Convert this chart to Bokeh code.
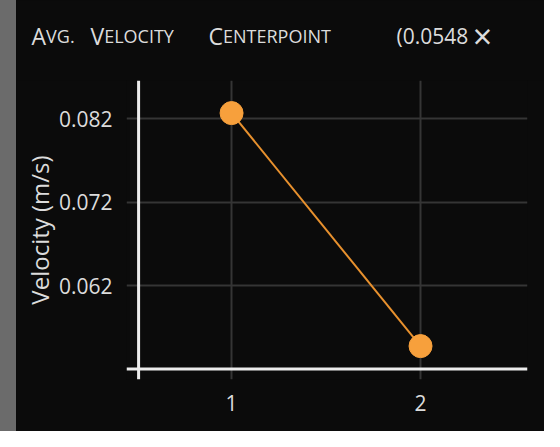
from bokeh.plotting import figure
from bokeh.models import Span, Label, FixedTicker, Range1d, Spacer, ColumnDataSource
from bokeh.layouts import row, column
from bokeh.embed import file_html
from bokeh.resources import INLINE

# ---- data ----
x_vals = [1, 2]
velocity = [0.0827, 0.0548]
x_tick_vals = [1, 2]
y_tick_vals = [0.062, 0.072, 0.082]
y_label = "Velocity (m/s)"
# small-caps title: (capital, rest) per word
title_words = [("A", "VG."), ("V", "ELOCITY"), ("C", "ENTERPOINT")]
title_value = "(0.0548"

FONT = "Open Sans"
BG = "#0b0b0b"
TXT = "#dcdcdc"
ORANGE = "#f7a03c"
LINE = "#e8912e"

W = 528
TH = 80          # header height
H = 351          # plot height
ML, MR, MB = 110, 17, 52

# ---------------- header (title) ----------------
hdr = figure(width=W, height=TH, output_backend="svg", toolbar_location=None,
             x_range=Range1d(0, 1), y_range=Range1d(0, 1),
             x_axis_type=None, y_axis_type=None,
             min_border_left=0, min_border_right=0,
             min_border_top=0, min_border_bottom=0,
             styles={"background-color": BG})
hdr.background_fill_color = BG
hdr.border_fill_color = BG
hdr.outline_line_color = None
hdr.grid.visible = False
if "frame_align" in hdr.properties():
    hdr.frame_align = False


def add_label(cx, cy, text, size, align="left"):
    # cx, cy: pixels from the header's top-left corner
    hdr.add_layout(Label(x=cx, y=TH - cy, x_units="screen", y_units="screen",
                         text=text, text_font=FONT, text_font_size=f"{size}px",
                         text_color=TXT, text_baseline="alphabetic", text_align=align))


BIG, SMALL = 23, 18
cap_w = {"A": 0.633, "V": 0.593, "C": 0.632}
word_x = [15, 74, 192]
base_y = 35
for (cap, rest), wx in zip(title_words, word_x):
    add_label(wx, base_y, cap, BIG)
    add_label(wx + cap_w[cap] * BIG, base_y, rest, SMALL)
add_label(380, base_y, title_value, 21)
add_label(466, base_y, "×", 34, align="center")

# ---------------- plot ----------------
src = ColumnDataSource(dict(x=x_vals, y=velocity))

p = figure(width=W, height=H, output_backend="svg", toolbar_location=None,
           x_range=Range1d(0.444, 2.566), y_range=Range1d(0.0508, 0.0866),
           min_border_left=ML, min_border_right=MR, min_border_top=0, min_border_bottom=MB,
           styles={"background-color": BG})
p.background_fill_color = BG
p.border_fill_color = BG
p.outline_line_color = None
if "frame_align" in p.properties():
    p.frame_align = False

for ax in (p.xaxis[0], p.yaxis[0]):
    ax.axis_line_color = None
    ax.major_tick_line_color = None
    ax.minor_tick_line_color = None
    ax.major_tick_out = 0
    ax.major_tick_in = 0
    ax.major_label_text_color = TXT
    ax.major_label_text_font = FONT
    ax.major_label_text_font_size = "21px"

p.xaxis.ticker = FixedTicker(ticks=x_tick_vals)
p.yaxis.ticker = FixedTicker(ticks=y_tick_vals)
p.xaxis.major_label_standoff = 15
p.yaxis.major_label_standoff = 14
p.yaxis.axis_label = y_label
p.yaxis.axis_label_text_font = FONT
p.yaxis.axis_label_text_font_size = "24px"
p.yaxis.axis_label_text_font_style = "normal"
p.yaxis.axis_label_text_color = TXT
p.yaxis.axis_label_standoff = 0

p.xgrid.ticker = FixedTicker(ticks=x_tick_vals)
p.ygrid.ticker = FixedTicker(ticks=y_tick_vals)
p.grid.grid_line_color = "#353535"
p.grid.grid_line_width = 2

# axis lines crossing at the lower-left corner
p.add_layout(Span(location=0.508, dimension="height", line_color="#ececec", line_width=3))
p.add_layout(Span(location=0.05206, dimension="width", line_color="#ececec", line_width=3))

p.line("x", "y", source=src, line_color=LINE, line_width=2)
p.scatter("x", "y", source=src, size=23, fill_color=ORANGE, line_color=ORANGE)

strip = Spacer(width=16, height=TH + H, styles={"background-color": "#6b6b6b"})
panel = column(row(hdr, spacing=0), p, spacing=0, styles={"background-color": BG})
layout = row(strip, panel, spacing=0)

open("out.html", "w").write(file_html(layout, INLINE))
